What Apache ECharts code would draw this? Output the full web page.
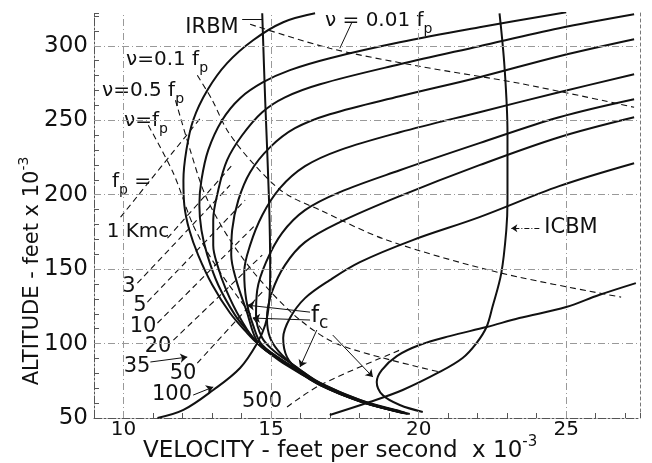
<!DOCTYPE html>
<html>
<head>
<meta charset="utf-8">
<title>Plasma frequency along re-entry trajectories</title>
<script src="https://cdn.jsdelivr.net/npm/echarts@6.0.0/dist/echarts.min.js"></script>
<style>html,body{margin:0;background:#fff;}</style>
</head>
<body>
<div id="main" style="width:652px;height:463px;"></div>
<script>
// velocity in 10^3 ft/s, altitude in 10^3 ft
const xGrid = [10, 15, 20, 25];
const yGrid = [100, 150, 200, 250, 300];

// constant plasma frequency contours (fp = 1 Kmc ... 500)
const fp1 = [[16.49,321.8],[15.41,315.8],[14.39,303.7],[13.51,288.3],[12.84,270.1],[12.36,250.0],[12.13,229.9],[12.03,209.7],[12.06,193.0],[12.23,176.2],[12.53,159.4],[13.01,139.3],[13.61,120.5],[14.19,107.0],[14.53,100.3],[15.41,86.9],[16.66,72.8],[18.01,61.4],[19.46,53.4]];
const fp3 = [[25.0,322.5],[22.06,312.4],[19.36,302.3],[16.99,291.6],[15.64,283.6],[14.73,275.5],[13.95,264.8],[13.34,250.0],[12.87,229.9],[12.64,209.7],[12.57,193.0],[12.64,176.2],[12.84,159.4],[13.21,139.3],[13.78,119.1],[14.29,106.4],[14.56,100.3],[15.47,87.6],[16.66,73.5],[18.01,62.1],[19.36,54.7]];
const fp5 = [[27.3,321.1],[24.76,311.7],[22.06,299.7],[19.36,287.6],[16.66,274.2],[15.47,265.4],[14.7,255.4],[14.02,239.9],[13.51,223.2],[13.21,203.0],[13.04,182.9],[13.04,166.1],[13.18,152.7],[13.48,135.9],[13.95,117.1],[14.56,99.7],[15.54,86.2],[16.66,72.1],[18.01,61.4],[19.46,54.0]];
const fp10 = [[27.3,304.4],[24.76,293.0],[22.06,278.9],[19.36,266.1],[16.99,254.0],[15.81,244.6],[14.97,231.9],[14.29,215.1],[13.89,196.3],[13.68,176.2],[13.65,159.4],[13.82,142.6],[14.16,122.5],[14.59,99.7],[15.61,85.6],[16.72,72.1],[18.07,60.7],[19.53,53.4]];
const fp20 = [[27.3,280.9],[24.76,268.8],[22.06,255.4],[19.36,241.9],[17.33,229.9],[16.15,219.1],[15.3,204.4],[14.7,186.2],[14.29,166.1],[14.09,148.0],[14.16,129.2],[14.39,112.4],[14.7,99.0],[15.68,84.9],[16.76,71.5],[18.14,60.7],[19.56,53.4]];
const fp35 = [[27.3,264.1],[24.76,252.0],[22.06,234.6],[19.36,216.4],[17.33,201.7],[16.15,189.6],[15.37,174.2],[14.83,154.7],[14.53,135.9],[14.49,119.1],[14.7,103.7],[15.14,94.3],[15.81,84.9],[16.79,71.5],[18.21,60.1],[19.63,52.7]];
const fp50 = [[27.3,252.0],[24.76,238.6],[22.06,219.8],[19.36,199.0],[17.33,181.5],[16.15,168.1],[15.47,152.7],[15.03,134.6],[14.86,117.1],[14.97,103.7],[15.37,92.3],[15.98,82.2],[16.86,71.5],[18.28,60.1],[19.7,52.7]];
const fp100 = [[27.3,221.1],[24.76,205.7],[22.06,184.9],[19.8,169.5],[18.01,154.7],[16.99,142.6],[16.15,130.5],[15.64,117.1],[15.41,103.7],[15.54,90.9],[15.98,80.9],[16.66,72.1],[18.07,60.7],[19.53,53.4]];
const fp500 = [[27.36,140.6],[26.11,132.6],[25.0,124.5],[23.41,117.1],[22.3,111.1],[21.05,105.0],[20.03,99.0],[19.26,91.6],[18.75,82.2],[18.58,74.2],[18.78,65.4],[19.36,58.7],[20.14,54.0]];

// trajectories
const irbm = [[14.7,321.8],[14.8,263.4],[14.93,196.3],[14.97,149.3],[14.93,127.2],[14.8,112.4],[14.53,100.3],[13.95,83.6],[13.04,68.8],[12.03,55.4],[11.15,50.0]];
const icbm = [[22.74,321.8],[22.91,285.6],[23.01,241.3],[23.01,196.3],[22.97,176.2],[22.8,147.3],[22.5,124.5],[22.3,111.1],[21.96,100.3],[21.49,90.3],[20.71,80.9],[19.46,68.8],[18.34,60.7],[16.99,52.0]];

// collision frequency lines
const nu001 = [[14.29,314.4],[16.99,298.3],[20.03,286.2],[23.41,274.8],[27.3,258.7]];
const nu01 = [[12.5,280.2],[13.01,263.4],[13.51,243.3],[14.29,223.2],[15.41,201.7],[16.66,189.6],[18.92,169.5],[22.8,147.3],[26.86,131.2]];
const nu05 = [[11.76,263.4],[12.26,229.9],[12.77,199.7],[13.61,169.5],[14.63,142.6],[15.98,115.8],[17.33,99.0],[20.71,80.9]];
const nu1 = [[10.84,246.6],[11.69,214.4],[12.36,179.5],[13.11,152.7],[13.95,129.2],[14.7,109.1]];

// dashed fp leaders
const fpLeaders = [
  [[9.9,184.9],[12.6,251.3]],
  [[11.49,170.8],[13.68,219.8]],
  [[10.47,140.6],[13.61,206.4]],
  [[10.81,127.9],[14.12,196.3]],
  [[11.15,113.8],[14.46,179.5]],
  [[11.69,102.3],[14.7,159.4]],
  [[12.5,86.9],[14.7,134.6]],
  [[15.54,57.4],[16.66,72.1],[19.36,95.6]]
];

// arrows [from, to]
const arrows = [
  [[10.91,87.6],[12.16,90.9]],
  [[12.36,65.4],[13.04,70.8]],
  [[16.32,121.1],[14.19,125.8]],
  [[16.32,115.8],[14.39,117.1]],
  [[16.55,109.1],[15.98,84.2]],
  [[17.09,105.7],[18.45,77.5]]
];
const plainLeaders = [
  [[14.02,317.8],[14.7,317.8]],
  [[17.74,315.8],[17.33,298.3]]
];
const icbmLeader = [[24.09,177.5],[23.14,177.5]];

const INK = '#111';
const FONT = "'DejaVu Sans', sans-serif";

function solid(data) {
  return { type: 'line', data, symbol: 'none', smooth: 0.35, silent: true,
    lineStyle: { color: INK, width: 2 } };
}
function dashed(data) {
  return { type: 'line', data, symbol: 'none', smooth: 0.3, silent: true,
    lineStyle: { color: INK, width: 1.1, type: [6, 4] } };
}

const series = [];
[fp1, fp3, fp5, fp10, fp20, fp35, fp50, fp100, fp500, irbm, icbm].forEach(d => series.push(solid(d)));
[nu001, nu01, nu05, nu1].forEach(d => series.push(dashed(d)));
fpLeaders.forEach(d => series.push(dashed(d)));

// grid lines and annotation arrows
series.push({
  type: 'line', data: [], silent: true,
  markLine: {
    silent: true, symbol: 'none', animation: false, label: { show: false },
    lineStyle: { color: '#999', width: 1, type: [7, 3, 1, 3] },
    data: xGrid.map(v => ({ xAxis: v })).concat(yGrid.map(v => ({ yAxis: v })))
  }
});
series.push({
  type: 'line', data: [], silent: true,
  markLine: {
    silent: true, symbol: ['none', 'arrow'], symbolSize: 7, animation: false, label: { show: false },
    lineStyle: { color: INK, width: 1, type: 'solid' },
    data: arrows.map(a => [{ coord: a[0] }, { coord: a[1] }])
  }
});
series.push({
  type: 'line', data: [], silent: true,
  markLine: {
    silent: true, symbol: 'none', animation: false, label: { show: false },
    lineStyle: { color: INK, width: 1, type: 'solid' },
    data: plainLeaders.map(a => [{ coord: a[0] }, { coord: a[1] }])
  }
});
series.push({
  type: 'line', data: [], silent: true,
  markLine: {
    silent: true, symbol: ['none', 'arrow'], symbolSize: 6, animation: false, label: { show: false },
    lineStyle: { color: INK, width: 1, type: [5, 2, 1, 2] },
    data: [[{ coord: icbmLeader[0] }, { coord: icbmLeader[1] }]]
  }
});

// text helpers
function rich(x, y, text, size, align) {
  return {
    type: 'text', x, y, silent: true,
    style: {
      text, fill: INK, textAlign: align || 'left', textVerticalAlign: 'middle',
      rich: {
        m: { fontSize: size, fontFamily: FONT, fill: INK, lineHeight: size + 10 },
        s: { fontSize: Math.round(size * 0.72), fontFamily: FONT, fill: INK, verticalAlign: 'bottom' },
        u: { fontSize: Math.round(size * 0.65), fontFamily: FONT, fill: INK, verticalAlign: 'top' }
      }
    }
  };
}
function plain(x, y, text, size) {
  return { type: 'text', x, y, silent: true,
    style: { text, fill: INK, font: size + 'px ' + FONT, textAlign: 'center', textVerticalAlign: 'middle' } };
}

const graphic = [
  plain(212, 28, 'IRBM', 21),
  rich(325, 21, '{m|\u03bd = 0.01 f}{s|p}', 20),
  rich(126, 60, '{m|\u03bd=0.1 f}{s|p}', 20),
  rich(102, 91, '{m|\u03bd=0.5 f}{s|p}', 20),
  rich(124, 121, '{m|\u03bd=f}{s|p}', 20),
  rich(112, 182, '{m|f}{s|p}{m| =}', 20),
  plain(138, 232, '1 Kmc', 20),
  plain(129, 287, '3', 21),
  plain(140, 306, '5', 21),
  plain(143, 327, '10', 21),
  plain(158, 347, '20', 21),
  plain(137, 367, '35', 21),
  plain(183, 374, '50', 21),
  plain(172, 395, '100', 21),
  plain(262, 402, '500', 21),
  rich(311, 316, '{m|f}{s|c}', 23),
  plain(571, 228, 'ICBM', 21),
  rich(143, 451, '{m|VELOCITY - feet per second  x 10}{u|-3}', 23),
  Object.assign(rich(33, 271, '{m|ALTITUDE - feet x 10}{u|-3}', 21, 'center'), { rotation: Math.PI / 2 })
];

const chart = echarts.init(document.getElementById('main'));
chart.setOption({
  animation: false,
  backgroundColor: '#fff',
  grid: { left: 94, right: 12, top: 13, bottom: 45 },
  xAxis: {
    type: 'value', min: 9, max: 27.5, interval: 1,
    axisLine: { show: true, lineStyle: { color: '#555', width: 1, type: [8, 2, 2, 2] } },
    axisTick: { show: true, inside: true, length: 5, lineStyle: { color: '#555' } },
    axisLabel: { color: INK, fontSize: 20, fontFamily: FONT, margin: 2,
      formatter: v => (v % 5 === 0 ? String(v) : '') },
    splitLine: { show: false }
  },
  yAxis: [{
    type: 'value', min: 50, max: 322, interval: 10,
    axisLine: { show: true, lineStyle: { color: '#555', width: 1, type: [8, 2, 2, 2] } },
    axisTick: { show: true, inside: true, length: 5, lineStyle: { color: '#555' } },
    axisLabel: { color: INK, fontSize: 23, fontFamily: FONT, margin: 6,
      formatter: v => (v % 50 === 0 ? String(v) : '') },
    splitLine: { show: false }
  }, {
    type: 'value', min: 50, max: 322, position: 'right',
    axisLine: { show: true, lineStyle: { color: '#777', width: 1, type: [3, 3] } },
    axisTick: { show: false }, axisLabel: { show: false }, splitLine: { show: false }
  }],
  series,
  graphic
});
</script>
</body>
</html>
